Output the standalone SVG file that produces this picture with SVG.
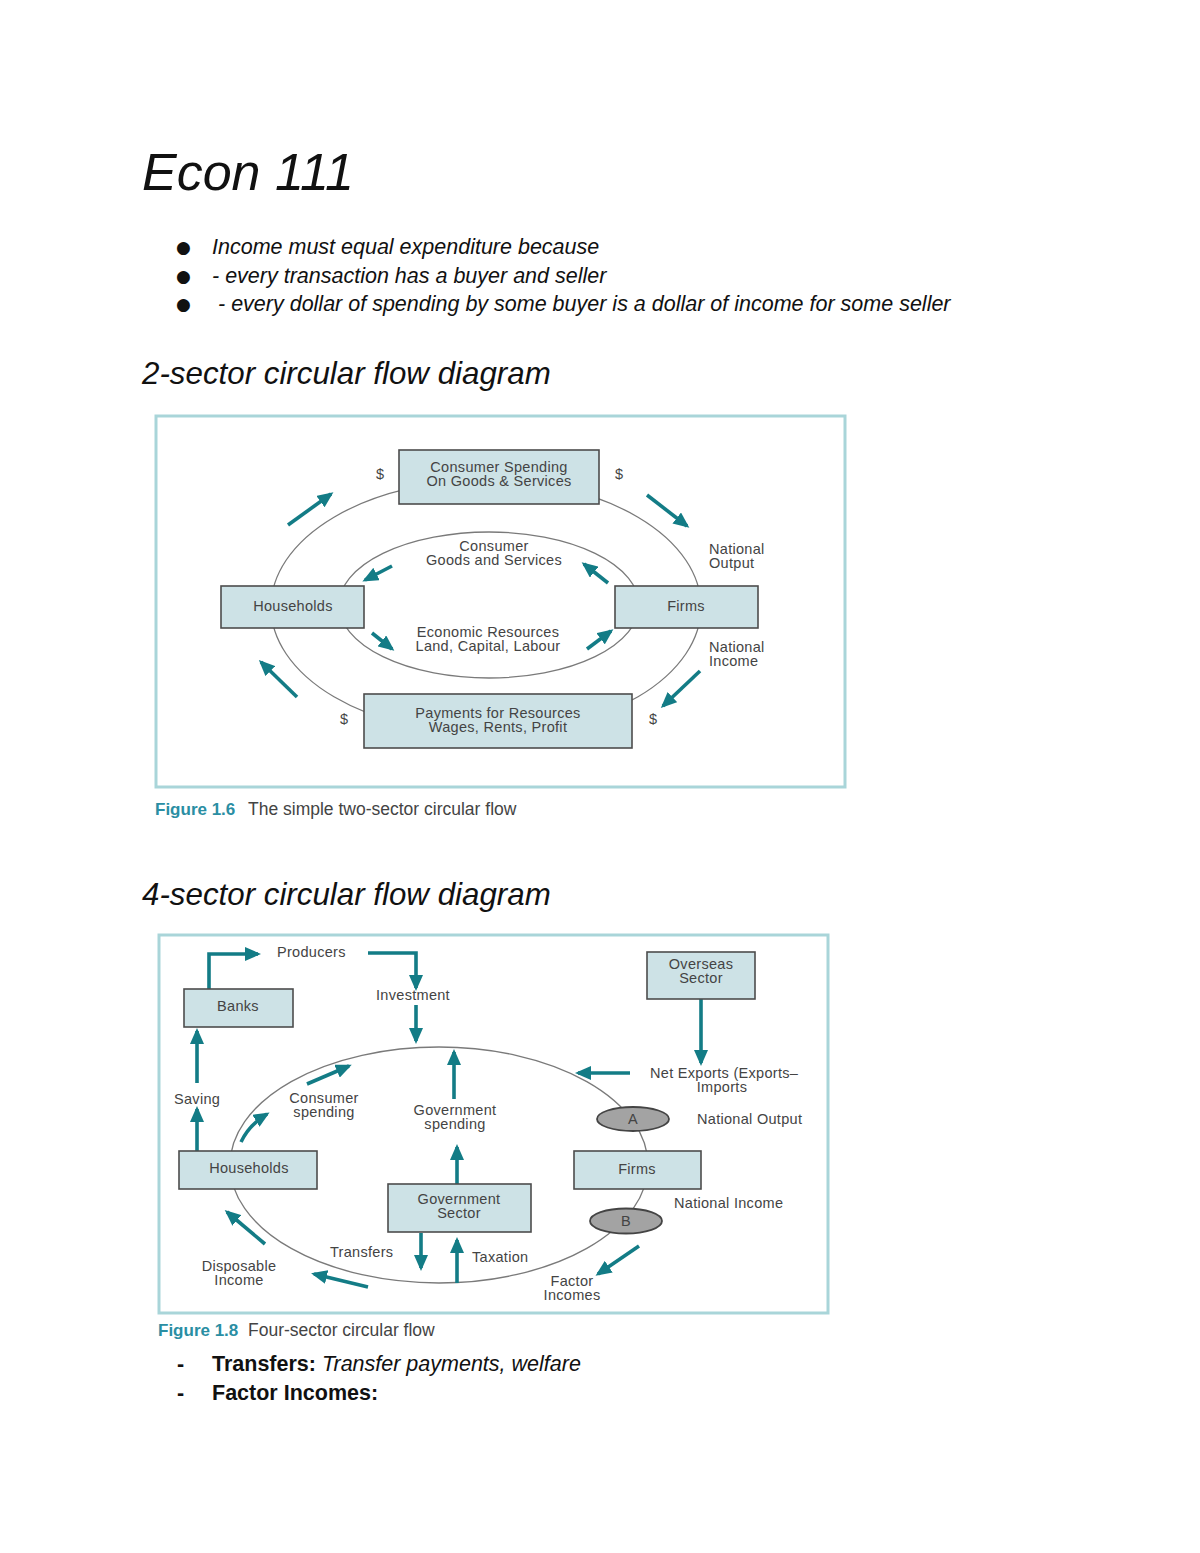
<svg xmlns="http://www.w3.org/2000/svg" width="1200" height="1553" viewBox="0 0 1200 1553">
<style>
.doc{font-family:"Liberation Sans",Arial,sans-serif;fill:#111}
.it{font-style:italic}
.bul{font-family:"DejaVu Sans",sans-serif;font-size:17px;fill:#111}
.d{font-family:"Liberation Sans",Arial,sans-serif;font-size:14.5px;letter-spacing:0.3px;fill:#444}
.c{text-anchor:middle}
.box{fill:#cde2e6;stroke:#4d4d4d;stroke-width:1.6}
.frame{fill:#fff;stroke:#a9d5d9;stroke-width:3}
.ring{fill:none;stroke:#7a7a7a;stroke-width:1.3}
.ar{fill:none;stroke:#137c86;stroke-width:3.6;marker-end:url(#ah)}
.oval{fill:#a3a3a3;stroke:#444;stroke-width:1.8}
.cap{font-family:"Liberation Sans",Arial,sans-serif;font-size:17.5px;fill:#444}
.capb{font-weight:bold;fill:#2a8ea3;font-size:17px}
</style>
<defs>
<marker id="ah" markerUnits="userSpaceOnUse" markerWidth="16" markerHeight="14" viewBox="0 0 16 14" refX="13" refY="7" orient="auto">
<path d="M0,0 L16,7 L0,14 z" fill="#137c86"/>
</marker>
</defs>
<rect width="1200" height="1553" fill="#fff"/>

<text class="doc it" x="142" y="190" font-size="52">Econ 111</text>
<text class="bul" x="176" y="253">●</text>
<text class="bul" x="176" y="282">●</text>
<text class="bul" x="176" y="310">●</text>
<g class="doc" font-size="21.5">
<text class="it" x="212" y="254">Income must equal expenditure because</text>
<text class="it" x="212" y="283">- every transaction has a buyer and seller</text>
<text class="it" x="218" y="311">- every dollar of spending by some buyer is a dollar of income for some seller</text>
</g>
<text class="doc it" x="142" y="384" font-size="31.3">2-sector circular flow diagram</text>

<!-- Diagram 1 -->
<g id="fig16">
<rect class="frame" x="156" y="416" width="689" height="371"/>
<g id="connectors1">
<ellipse class="ring" cx="486" cy="607" rx="215" ry="127"/>
<ellipse class="ring" cx="489" cy="605" rx="150" ry="73"/>
<line class="ar" x1="288" y1="525" x2="331" y2="494"/>
<line class="ar" x1="647" y1="495" x2="687" y2="526"/>
<line class="ar" x1="392" y1="566" x2="365" y2="580"/>
<line class="ar" x1="608" y1="583" x2="584" y2="564"/>
<line class="ar" x1="372" y1="633" x2="392" y2="649"/>
<line class="ar" x1="587" y1="649" x2="611" y2="631"/>
<line class="ar" x1="297" y1="697" x2="261" y2="662"/>
<line class="ar" x1="700" y1="671" x2="663" y2="706"/>
</g>
<g id="n-spending"><rect class="box" x="399" y="450" width="200" height="54"/>
<text class="d c" x="499" y="472">Consumer Spending</text><text class="d c" x="499" y="486">On Goods &amp; Services</text></g>
<g id="n-households1"><rect class="box" x="221" y="586" width="143" height="42"/><text class="d c" x="293" y="611">Households</text></g>
<g id="n-firms1"><rect class="box" x="615" y="586" width="143" height="42"/><text class="d c" x="686" y="611">Firms</text></g>
<g id="n-payments"><rect class="box" x="364" y="694" width="268" height="54"/>
<text class="d c" x="498" y="718">Payments for Resources</text><text class="d c" x="498" y="732">Wages, Rents, Profit</text></g>
<g id="labels1">
<text class="d" x="376" y="479">$</text>
<text class="d" x="615" y="479">$</text>
<text class="d" x="340" y="724">$</text>
<text class="d" x="649" y="724">$</text>
<text class="d c" x="494" y="551">Consumer</text>
<text class="d c" x="494" y="565">Goods and Services</text>
<text class="d" x="709" y="554">National</text>
<text class="d" x="709" y="568">Output</text>
<text class="d c" x="488" y="637">Economic Resources</text>
<text class="d c" x="488" y="651">Land, Capital, Labour</text>
<text class="d" x="709" y="652">National</text>
<text class="d" x="709" y="666">Income</text>
</g>
<text class="cap" x="155" y="815"><tspan class="capb">Figure 1.6</tspan><tspan x="248">The simple two-sector circular flow</tspan></text>
</g>

<text class="doc it" x="142" y="905" font-size="31.3">4-sector circular flow diagram</text>

<!-- Diagram 2 -->
<g id="fig18">
<rect class="frame" x="159" y="935" width="669" height="378"/>
<g id="connectors2">
<ellipse class="ring" cx="439" cy="1165" rx="209" ry="118"/>
<polyline class="ar" points="209,989 209,954 258,954"/>
<polyline class="ar" points="368,953 416,953 416,988"/>
<line class="ar" x1="416" y1="1005" x2="416" y2="1041"/>
<line class="ar" x1="454" y1="1099" x2="454" y2="1052"/>
<line class="ar" x1="701" y1="999" x2="701" y2="1063"/>
<line class="ar" x1="630" y1="1073" x2="578" y2="1073"/>
<line class="ar" x1="197" y1="1083" x2="197" y2="1031"/>
<line class="ar" x1="197" y1="1151" x2="197" y2="1109"/>
<line class="ar" x1="307" y1="1084" x2="349" y2="1066"/>
<path class="ar" d="M241,1142 Q249,1125 267,1114"/>
<line class="ar" x1="457" y1="1184" x2="457" y2="1147"/>
<line class="ar" x1="421" y1="1233" x2="421" y2="1268"/>
<line class="ar" x1="457" y1="1283" x2="457" y2="1240"/>
<line class="ar" x1="265" y1="1244" x2="227" y2="1212"/>
<line class="ar" x1="368" y1="1287" x2="314" y2="1274"/>
<line class="ar" x1="639" y1="1246" x2="598" y2="1274"/>
</g>
<g id="n-banks"><rect class="box" x="184" y="989" width="109" height="38"/><text class="d c" x="238" y="1011">Banks</text></g>
<g id="n-overseas"><rect class="box" x="647" y="952" width="108" height="47"/>
<text class="d c" x="701" y="969">Overseas</text><text class="d c" x="701" y="983">Sector</text></g>
<g id="n-households2"><rect class="box" x="179" y="1151" width="138" height="38"/><text class="d c" x="249" y="1173">Households</text></g>
<g id="n-firms2"><rect class="box" x="574" y="1151" width="127" height="38"/><text class="d c" x="637" y="1174">Firms</text></g>
<g id="n-government"><rect class="box" x="388" y="1184" width="143" height="48"/>
<text class="d c" x="459" y="1204">Government</text><text class="d c" x="459" y="1218">Sector</text></g>
<g id="n-A"><ellipse class="oval" cx="633" cy="1119" rx="36" ry="12"/><text class="d c" x="633" y="1124" font-size="13">A</text></g>
<g id="n-B"><ellipse class="oval" cx="626" cy="1221" rx="36" ry="12.5"/><text class="d c" x="626" y="1226" font-size="13">B</text></g>
<g id="labels2">
<text class="d" x="277" y="957">Producers</text>
<text class="d c" x="413" y="1000">Investment</text>
<text class="d" x="650" y="1078">Net Exports (Exports–</text>
<text class="d c" x="722" y="1092">Imports</text>
<text class="d" x="174" y="1104">Saving</text>
<text class="d c" x="324" y="1103">Consumer</text>
<text class="d c" x="324" y="1117">spending</text>
<text class="d c" x="455" y="1115">Government</text>
<text class="d c" x="455" y="1129">spending</text>
<text class="d" x="697" y="1124">National Output</text>
<text class="d" x="674" y="1208">National Income</text>
<text class="d" x="330" y="1257">Transfers</text>
<text class="d" x="472" y="1262">Taxation</text>
<text class="d c" x="239" y="1271">Disposable</text>
<text class="d c" x="239" y="1285">Income</text>
<text class="d c" x="572" y="1286">Factor</text>
<text class="d c" x="572" y="1300">Incomes</text>
</g>
<text class="cap" x="158" y="1336"><tspan class="capb">Figure 1.8</tspan><tspan x="248">Four-sector circular flow</tspan></text>
</g>

<g class="doc" font-size="21.5">
<text x="177" y="1371" font-weight="bold">-</text>
<text x="212" y="1371"><tspan font-weight="bold">Transfers:</tspan><tspan class="it"> Transfer payments, welfare</tspan></text>
<text x="177" y="1400" font-weight="bold">-</text>
<text x="212" y="1400" font-weight="bold">Factor Incomes:</text>
</g>
</svg>
